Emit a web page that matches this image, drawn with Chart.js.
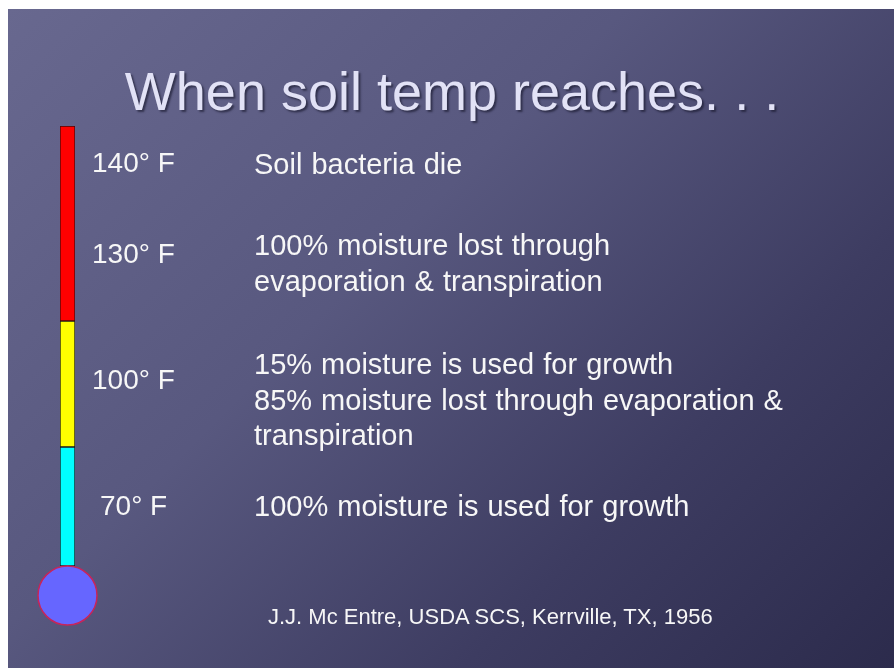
<!DOCTYPE html>
<html>
<head>
<meta charset="utf-8">
<script src="https://cdn.jsdelivr.net/npm/chart.js@4/dist/chart.umd.min.js"></script>
<style>
  html, body { margin: 0; padding: 0; width: 894px; height: 668px; background: #ffffff; overflow: hidden; }
  #slide {
    position: absolute; left: 8px; top: 9px; width: 886px; height: 659px;
    background: linear-gradient(135deg, #68688f 0%, #58587f 40%, #3d3c61 72%, #2c2b4c 100%);
  }
  #chart { position: absolute; left: 0; top: 0; }
  .t { position: absolute; font-family: "Liberation Sans", Arial, sans-serif; color: #f7f7f7; white-space: nowrap; }
  .lbl { font-size: 28px; line-height: 36px; }
  .desc { font-size: 29px; line-height: 36px; word-spacing: 1px; }
  #title { left: 5px; width: 894px; text-align: center; top: 64px; font-size: 54px; line-height: 54px; color: #e2e2f6;
           text-shadow: 2px 2px 2px rgba(20,20,40,0.6); }
  #source { font-size: 22px; line-height: 24px; left: 268px; top: 605px; }
</style>
</head>
<body>
<div id="slide"></div>
<canvas id="chart" width="894" height="668"></canvas>
<div id="texts"></div>
<script>
// ---- data ----
const categories = ['Soil temperature'];
const zoneNames = ['70° F zone', '100° F zone', '130–140° F zone'];
const cyanZone = [119];     // bottom segment height (scale units)
const yellowZone = [126];   // middle segment height
const redZone = [195];      // top segment height
const bulbValue = [-29.5];  // bulb centre, just below the column

const tempLabels = ['140° F', '130° F', '100° F', '70° F'];
const effects = [
  ['Soil bacteria die'],
  ['100% moisture lost through', 'evaporation & transpiration'],
  ['15% moisture is used for growth', '85% moisture lost through evaporation &', 'transpiration'],
  ['100% moisture is used for growth']
];
const titleText = 'When soil temp reaches. . .';
const sourceText = 'J.J. Mc Entre, USDA SCS, Kerrville, TX, 1956';

// ---- text layout ----
const labelPos = [[92, 145], [92, 236], [92, 362], [100, 488]];
const effectPos = [[254, 146, 36], [254, 227, 36], [254, 347, 35.5], [254, 488, 36]];
const box = document.getElementById('texts');
function addDiv(cls, id, html, left, top, lh) {
  const d = document.createElement('div');
  d.className = 't ' + cls;
  if (id) d.id = id;
  d.innerHTML = html;
  if (left !== null) d.style.left = left + 'px';
  if (top !== null) d.style.top = top + 'px';
  if (lh) d.style.lineHeight = lh + 'px';
  box.appendChild(d);
}
addDiv('', 'title', titleText, null, null);
tempLabels.forEach((s, i) => addDiv('lbl', null, s, labelPos[i][0], labelPos[i][1]));
effects.forEach((lines, i) => addDiv('desc', null, lines.join('<br>'), effectPos[i][0], effectPos[i][1], effectPos[i][2]));
addDiv('', 'source', sourceText, null, null);

// ---- chart ----
const seg = (label, data, color, border) => ({
  type: 'bar', label, data, backgroundColor: color, borderColor: border,
  borderWidth: 1, borderSkipped: false, barPercentage: 1, categoryPercentage: 1, stack: 's', order: 2
});
new Chart(document.getElementById('chart'), {
  type: 'bar',
  data: {
    labels: categories,
    datasets: [
      seg(zoneNames[0], cyanZone, '#00ffff', '#1a1a1a'),
      seg(zoneNames[1], yellowZone, '#ffff00', '#1a1a1a'),
      seg(zoneNames[2], redZone, '#ff0000', '#4a0a0a'),
      {
        type: 'line', label: 'Bulb', data: bulbValue, showLine: false, clip: false, order: 1,
        pointRadius: 29.5, pointHoverRadius: 29.5,
        pointBackgroundColor: '#6666ff', pointBorderColor: '#c8245a', pointBorderWidth: 1.5
      }
    ]
  },
  options: {
    responsive: false, animation: false,
    layout: { padding: { left: 60, right: 819, top: 126, bottom: 102 } },
    plugins: { legend: { display: false }, tooltip: { enabled: false }, title: { display: false } },
    scales: {
      x: { display: false, stacked: true },
      y: { display: false, stacked: true, min: 0, max: 440 }
    }
  }
});
</script>
</body>
</html>
